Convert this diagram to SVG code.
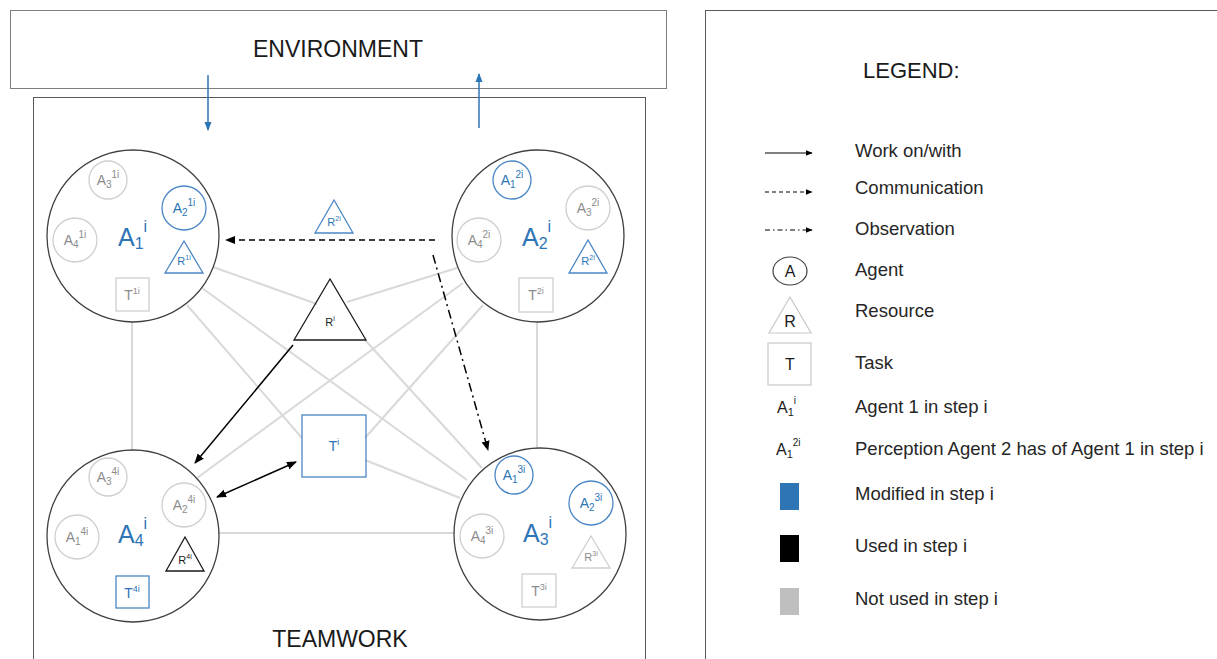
<svg xmlns="http://www.w3.org/2000/svg" width="1217" height="659" viewBox="0 0 1217 659">
<defs>
<style>
text{font-family:"Liberation Sans",Arial,sans-serif}
.frame{fill:#fff;stroke:#7f7f7f;stroke-width:1}
.bc{fill:none;stroke:#404040;stroke-width:1.3}
.gc{fill:none;stroke:#cfcfcf;stroke-width:1.3}
.bluec{fill:none;stroke:#4a86c5;stroke-width:1.3}
.blk{fill:none;stroke:#1a1a1a;stroke-width:1.3}
.gl{stroke:#d9d9d9;stroke-width:2;fill:none}
.ar{stroke:#000;stroke-width:1.5;fill:none}
.title{font-size:23px;fill:#1a1a1a}
.big{font-size:25px;fill:#2e75b6}
.sm{font-size:14px}
.tr{font-size:11px}
.g{fill:#8c8c8c}
.b{fill:#2e75b6}
.k{fill:#1a1a1a}
.lg{font-size:18.5px;fill:#262626}
</style>
<marker id="ah" viewBox="0 0 10 10" refX="9" refY="5" markerWidth="10" markerHeight="10" markerUnits="userSpaceOnUse" orient="auto-start-reverse"><path d="M0,1 L10,5 L0,9 z" fill="#000"/></marker>
<marker id="ahb" viewBox="0 0 10 10" refX="9" refY="5" markerWidth="9" markerHeight="9" markerUnits="userSpaceOnUse" orient="auto"><path d="M0,1 L10,5 L0,9 z" fill="#2e75b6"/></marker>
<marker id="ahs" viewBox="0 0 10 10" refX="9" refY="5" markerWidth="7" markerHeight="7" markerUnits="userSpaceOnUse" orient="auto"><path d="M0,1 L10,5 L0,9 z" fill="#000"/></marker>
</defs>
<rect width="1217" height="659" fill="#fff"/>

<g id="environment">
<rect class="frame" x="10.5" y="10.5" width="656" height="78"/>
<text class="title" x="338" y="57" text-anchor="middle">ENVIRONMENT</text>
</g>

<g id="teamwork">
<rect class="frame" x="33.5" y="97.5" width="612" height="580" style="stroke:#595959"/>
<text class="title" x="340" y="647" text-anchor="middle">TEAMWORK</text>
</g>

<g id="connectors">
<line class="gl" x1="132" y1="322" x2="132" y2="450"/>
<line class="gl" x1="537" y1="322" x2="537" y2="448"/>
<line class="gl" x1="218" y1="533" x2="455" y2="533"/>
<line class="gl" x1="213" y1="267" x2="317" y2="304"/>
<line class="gl" x1="347" y1="302" x2="457" y2="268"/>
<line class="gl" x1="202" y1="288" x2="467" y2="480"/>
<line class="gl" x1="187" y1="305" x2="302" y2="438"/>
<line class="gl" x1="365" y1="340" x2="482" y2="468"/>
<line class="gl" x1="463" y1="283" x2="197" y2="478"/>
<line class="gl" x1="483" y1="305" x2="365" y2="438"/>
<line class="gl" x1="365" y1="460" x2="460" y2="498"/>
<line x1="208" y1="75" x2="208" y2="130" stroke="#2e75b6" stroke-width="1.5" marker-end="url(#ahb)"/>
<line x1="479" y1="128" x2="479" y2="74" stroke="#2e75b6" stroke-width="1.5" marker-end="url(#ahb)"/>
<line class="ar" x1="435" y1="240" x2="226" y2="240" stroke-dasharray="6,4" marker-end="url(#ah)"/>
<line class="ar" x1="433" y1="255" x2="488" y2="450" stroke-dasharray="9,4,2,4" marker-end="url(#ah)"/>
<line class="ar" x1="293" y1="345" x2="195" y2="463" marker-end="url(#ah)"/>
<line class="ar" x1="296" y1="462" x2="217" y2="497" marker-start="url(#ah)" marker-end="url(#ah)"/>
</g>

<g id="agent1">
<circle class="bc" cx="133" cy="236" r="86"/>
<circle class="gc" cx="108" cy="180" r="19"/>
<text class="sm g" x="108" y="185" text-anchor="middle">A<tspan dy="3" font-size="10">3</tspan><tspan dy="-10" font-size="10">1i</tspan></text>
<circle class="bluec" cx="184" cy="208" r="22"/>
<text class="sm b" x="184" y="213" text-anchor="middle">A<tspan dy="3" font-size="10">2</tspan><tspan dy="-10" font-size="10">1i</tspan></text>
<circle class="gc" cx="75" cy="240" r="22"/>
<text class="sm g" x="75" y="245" text-anchor="middle">A<tspan dy="3" font-size="10">4</tspan><tspan dy="-10" font-size="10">1i</tspan></text>
<text class="big" x="118" y="246">A<tspan dy="3" font-size="16">1</tspan><tspan dy="-17" font-size="16">i</tspan></text>
<polygon class="bluec" points="184,241 165,273 203,273"/>
<text class="tr b" x="184" y="265" text-anchor="middle">R<tspan dy="-5" font-size="7">1i</tspan></text>
<rect class="gc" x="116" y="278" width="33" height="33"/>
<text class="sm g" x="132" y="300" text-anchor="middle">T<tspan dy="-6" font-size="9">1i</tspan></text>
</g>

<g id="agent2">
<circle class="bc" cx="538" cy="236" r="86"/>
<circle class="bluec" cx="512" cy="180" r="19"/>
<text class="sm b" x="512" y="185" text-anchor="middle">A<tspan dy="3" font-size="10">1</tspan><tspan dy="-10" font-size="10">2i</tspan></text>
<circle class="gc" cx="588" cy="208" r="22"/>
<text class="sm g" x="588" y="213" text-anchor="middle">A<tspan dy="3" font-size="10">3</tspan><tspan dy="-10" font-size="10">2i</tspan></text>
<circle class="gc" cx="479" cy="240" r="22"/>
<text class="sm g" x="479" y="245" text-anchor="middle">A<tspan dy="3" font-size="10">4</tspan><tspan dy="-10" font-size="10">2i</tspan></text>
<text class="big" x="522" y="246">A<tspan dy="3" font-size="16">2</tspan><tspan dy="-17" font-size="16">i</tspan></text>
<polygon class="bluec" points="588,240 569,273 607,273"/>
<text class="tr b" x="588" y="265" text-anchor="middle">R<tspan dy="-5" font-size="7">2i</tspan></text>
<rect class="gc" x="519" y="278" width="34" height="34"/>
<text class="sm g" x="536" y="300" text-anchor="middle">T<tspan dy="-6" font-size="9">2i</tspan></text>
</g>

<g id="agent3">
<circle class="bc" cx="540" cy="534" r="86"/>
<circle class="bluec" cx="514" cy="475" r="19"/>
<text class="sm b" x="514" y="480" text-anchor="middle">A<tspan dy="3" font-size="10">1</tspan><tspan dy="-10" font-size="10">3i</tspan></text>
<circle class="bluec" cx="591" cy="503" r="22"/>
<text class="sm b" x="591" y="508" text-anchor="middle">A<tspan dy="3" font-size="10">2</tspan><tspan dy="-10" font-size="10">3i</tspan></text>
<circle class="gc" cx="482" cy="536" r="22"/>
<text class="sm g" x="482" y="541" text-anchor="middle">A<tspan dy="3" font-size="10">4</tspan><tspan dy="-10" font-size="10">3i</tspan></text>
<text class="big" x="523" y="542">A<tspan dy="3" font-size="16">3</tspan><tspan dy="-17" font-size="16">i</tspan></text>
<polygon class="gc" points="591,536 572,568 610,568"/>
<text class="tr g" x="591" y="561" text-anchor="middle">R<tspan dy="-5" font-size="7">3i</tspan></text>
<rect class="gc" x="522" y="574" width="34" height="33"/>
<text class="sm g" x="539" y="596" text-anchor="middle">T<tspan dy="-6" font-size="9">3i</tspan></text>
</g>

<g id="agent4">
<circle class="bc" cx="133" cy="536" r="86"/>
<circle class="gc" cx="108" cy="477" r="19"/>
<text class="sm g" x="108" y="482" text-anchor="middle">A<tspan dy="3" font-size="10">3</tspan><tspan dy="-10" font-size="10">4i</tspan></text>
<circle class="gc" cx="184" cy="505" r="22"/>
<text class="sm g" x="184" y="510" text-anchor="middle">A<tspan dy="3" font-size="10">2</tspan><tspan dy="-10" font-size="10">4i</tspan></text>
<circle class="gc" cx="77" cy="537" r="22"/>
<text class="sm g" x="77" y="542" text-anchor="middle">A<tspan dy="3" font-size="10">1</tspan><tspan dy="-10" font-size="10">4i</tspan></text>
<text class="big" x="118" y="543">A<tspan dy="3" font-size="16">4</tspan><tspan dy="-17" font-size="16">i</tspan></text>
<polygon class="blk" points="185,537 166,571 204,571"/>
<text class="tr k" x="185" y="564" text-anchor="middle">R<tspan dy="-5" font-size="7">4i</tspan></text>
<rect class="bluec" x="116" y="576" width="33" height="32"/>
<text class="sm b" x="132" y="598" text-anchor="middle">T<tspan dy="-6" font-size="9">4i</tspan></text>
</g>

<g id="resource-ri">
<polygon class="blk" points="330,279 294,340 366,340"/>
<text class="tr k" x="330" y="326" text-anchor="middle">R<tspan dy="-5" font-size="7">i</tspan></text>
</g>

<g id="task-ti">
<rect class="bluec" x="302" y="415" width="64" height="62"/>
<text class="sm b" x="334" y="451" text-anchor="middle">T<tspan dy="-6" font-size="9">i</tspan></text>
</g>

<g id="resource-r2i">
<polygon class="bluec" points="334,200 315,233 353,233"/>
<text class="tr b" x="334" y="226" text-anchor="middle">R<tspan dy="-5" font-size="7">2i</tspan></text>
</g>

<g id="legend">
<rect class="frame" x="705.5" y="10.5" width="530" height="670" style="stroke:#595959"/>
<text x="863" y="78" font-size="22" fill="#1a1a1a">LEGEND:</text>
<line x1="765" y1="153" x2="812" y2="153" stroke="#000" stroke-width="1.2" marker-end="url(#ahs)"/>
<text class="lg" x="855" y="157">Work on/with</text>
<line x1="765" y1="192" x2="812" y2="192" stroke="#000" stroke-width="1.2" stroke-dasharray="4,3" marker-end="url(#ahs)"/>
<text class="lg" x="855" y="194">Communication</text>
<line x1="765" y1="230" x2="812" y2="230" stroke="#000" stroke-width="1.2" stroke-dasharray="5,3,1.5,3" marker-end="url(#ahs)"/>
<text class="lg" x="855" y="235">Observation</text>
<ellipse cx="790" cy="271" rx="17" ry="14" fill="none" stroke="#404040" stroke-width="1.2"/>
<text x="790" y="277" font-size="16" fill="#1a1a1a" text-anchor="middle">A</text>
<text class="lg" x="855" y="276">Agent</text>
<polygon points="790,297 769,333 811,333" fill="none" stroke="#c9c9c9" stroke-width="1.2"/>
<text x="790" y="327" font-size="16" fill="#1a1a1a" text-anchor="middle">R</text>
<text class="lg" x="855" y="317">Resource</text>
<rect x="768" y="343" width="43" height="42" fill="none" stroke="#c9c9c9" stroke-width="1.2"/>
<text x="790" y="370" font-size="16" fill="#1a1a1a" text-anchor="middle">T</text>
<text class="lg" x="855" y="369">Task</text>
<text x="777" y="413" font-size="16" fill="#1a1a1a">A<tspan dy="3" font-size="11">1</tspan><tspan dy="-12" font-size="10">i</tspan></text>
<text class="lg" x="855" y="413">Agent 1 in step i</text>
<text x="776" y="455" font-size="16" fill="#1a1a1a">A<tspan dy="3" font-size="11">1</tspan><tspan dy="-12" font-size="10">2i</tspan></text>
<text class="lg" x="855" y="455">Perception Agent 2 has of Agent 1 in step i</text>
<rect x="780" y="483" width="19" height="27" fill="#2e75b6"/>
<text class="lg" x="855" y="500">Modified in step i</text>
<rect x="780" y="535" width="19" height="27" fill="#000"/>
<text class="lg" x="855" y="552">Used in step i</text>
<rect x="780" y="588" width="19" height="27" fill="#bfbfbf"/>
<text class="lg" x="855" y="605">Not used in step i</text>
</g>
</svg>
